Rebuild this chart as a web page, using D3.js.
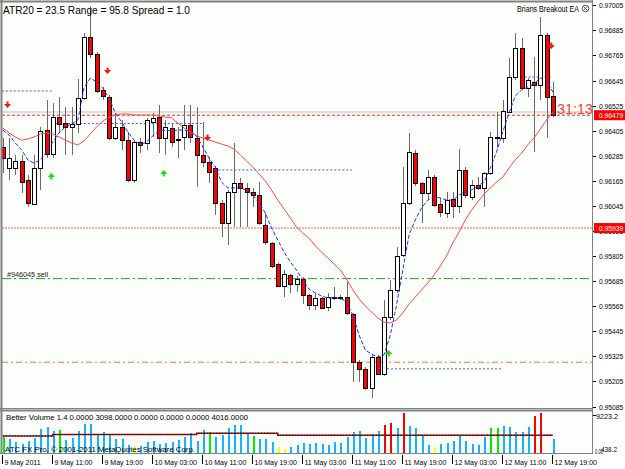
<!doctype html>
<html lang="en">
<head>
<meta charset="UTF-8">
<title>Brians Breakout EA</title>
<script src="https://cdn.jsdelivr.net/npm/d3@7"></script>
<style>
  body { margin: 0; background: #fff; }
  svg text { font-family: "Liberation Sans", Arial, sans-serif; }
</style>
</head>
<body>
<div id="chart-area"></div>

<script>
const chartW = 625;
const chartH = 469;

// hourly bars, first bar is 9 May 2011 03:00
const open = [
  .96327, .96226, .96226, .96260, .96169, .96054, .96226, .96408, .96293, .96470,
  .96442, .96423, .96437, .96561, .96853, .96772, .96600, .96566, .96370, .96423,
  .96360, .96169, .96351, .96346, .96447, .96470, .96370, .96418, .96365, .96375,
  .96432, .96370, .96289, .96255, .96226, .96059, .95963, .96112, .96155, .96131,
  .96112, .96097, .95954, .95867, .95767, .95662, .95714, .95671, .95695, .95619,
  .95571, .95604, .95561, .95609, .95609, .95609, .95528, .95298, .95264, .95174,
  .95322, .95241, .95513, .95643, .95810, .96059, .96298, .96155, .96107, .96183,
  .96054, .96011, .96078, .96045, .96217, .96088, .96145, .96131, .96202, .96370,
  .96370, .96494, .96662, .96801, .96609, .96638, .96624, .96863, .96571
];
const high = [
  .96370, .96370, .96289, .96289, .96193, .96289, .96423, .96552, .96537, .96566,
  .96518, .96518, .96652, .96872, .97000, .96781, .96614, .96576, .96490, .96456,
  .96399, .96360, .96370, .96466, .96490, .96528, .96456, .96442, .96423, .96528,
  .96528, .96518, .96447, .96279, .96236, .96073, .96121, .96346, .96179, .96155,
  .96131, .96159, .96011, .95872, .95772, .95738, .95719, .95710, .95705, .95623,
  .95628, .95609, .95628, .95657, .95619, .95681, .95533, .95308, .95274, .95336,
  .95332, .95595, .95690, .95848, .96231, .96394, .96313, .96159, .96217, .96193,
  .96083, .96112, .96112, .96317, .96231, .96169, .96183, .96207, .96399, .96494,
  .96552, .96753, .96872, .96848, .96657, .96758, .96949, .96872, .96638
];
const low = [
  .96202, .96169, .96193, .96107, .96040, .96049, .96121, .96274, .96274, .96394,
  .96289, .96289, .96394, .96552, .96753, .96585, .96552, .96360, .96360, .96313,
  .96159, .96155, .96298, .96313, .96375, .96298, .96289, .96327, .96274, .96313,
  .96346, .96136, .96231, .96155, .96002, .95896, .95858, .95944, .95944, .95944,
  .96040, .95954, .95858, .95748, .95657, .95609, .95628, .95633, .95576, .95547,
  .95547, .95552, .95542, .95595, .95595, .95523, .95202, .95202, .95164, .95126,
  .95236, .95231, .95499, .95628, .95800, .96049, .96140, .95963, .96073, .96040,
  .95992, .95987, .95987, .96011, .96083, .96073, .96121, .96040, .96193, .96322,
  .96346, .96490, .96648, .96600, .96566, .96303, .96552, .96370, .96470
];
const close = [
  .96274, .96274, .96260, .96159, .96059, .96226, .96404, .96293, .96470, .96437,
  .96423, .96437, .96561, .96853, .96772, .96595, .96571, .96370, .96423, .96360,
  .96169, .96351, .96337, .96456, .96466, .96370, .96423, .96351, .96360, .96432,
  .96375, .96289, .96255, .96207, .96059, .95963, .96112, .96155, .96131, .96112,
  .96097, .95963, .95872, .95757, .95662, .95719, .95671, .95695, .95619, .95571,
  .95604, .95556, .95609, .95604, .95604, .95532, .95298, .95264, .95174, .95322,
  .95241, .95513, .95643, .95805, .96059, .96303, .96155, .96107, .96183, .96049,
  .96016, .96073, .96045, .96217, .96097, .96145, .96131, .96202, .96375, .96375,
  .96499, .96662, .96801, .96609, .96648, .96624, .96863, .96566, .96479
];

// moving averages
const maSlow = [
  .96418, .96394, .96375, .96360, .96365, .96375, .96389, .96394, .96389, .96375,
  .96360, .96346, .96337, .96356, .96389, .96423, .96451, .96470, .96480, .96485,
  .96485, .96480, .96480, .96480, .96480, .96475, .96470, .96466, .96442, .96418,
  .96399, .96380, .96370, .96360, .96351, .96341, .96332, .96317, .96289, .96260,
  .96231, .96198, .96164, .96121, .96073, .96030, .95987, .95944, .95915, .95891,
  .95853, .95824, .95796, .95767, .95738, .95695, .95643, .95600, .95566, .95537,
  .95509, .95489, .95485, .95499, .95533, .95576, .95609, .95643, .95676, .95714,
  .95758, .95805, .95868, .95920, .95978, .96025, .96064, .96102, .96131, .96159,
  .96183, .96226, .96265, .96298, .96337, .96370, .96413, .96456, .96494
];
const maFast = [
  .96408, .96384, .96346, .96313, .96265, .96250, .96265, .96303, .96351, .96394,
  .96423, .96437, .96456, .96609, .96657, .96638, .96609, .96561, .96490, .96447,
  .96399, .96360, .96337, .96351, .96380, .96404, .96408, .96404, .96408, .96408,
  .96404, .96380, .96327, .96274, .96231, .96159, .96131, .96131, .96131, .96121,
  .96097, .96059, .96011, .95939, .95882, .95824, .95777, .95738, .95690, .95647,
  .95628, .95614, .95604, .95604, .95604, .95585, .95523, .95427, .95355, .95336,
  .95322, .95332, .95427, .95571, .95738, .95906, .95978, .96035, .96073, .96088,
  .96083, .96073, .96073, .96097, .96112, .96121, .96140, .96159, .96226, .96303,
  .96399, .96490, .96571, .96600, .96614, .96628, .96657, .96648, .96590
];

// Better Volume
const volume = [
  3558, 3104, 2425, 1971, 2651, 3331, 5370, 5824, 4917, 5144,
  2878, 3331, 4917, 6503, 6503, 4237, 4691, 4237, 3104, 3104,
  1745, 1518, 1518, 2425, 2651, 1971, 2198, 2425, 2878, 3558,
  4464, 2651, 5144, 4691, 3558, 4011, 5597, 6277, 6277, 4237,
  3784, 3104, 3104, 2425, 1292, 838, 1292, 1745, 2198, 1971,
  2198, 1971, 1745, 2425, 2198, 3558, 4691, 4917, 3331, 4237,
  4917, 6277, 6730, 5597, 8996, 6050, 5597, 4011, 1745, 1292,
  1971, 2198, 2651, 3784, 2651, 1971, 1745, 3558, 5597, 5597,
  6050, 5824, 4691, 4691, 5824, 8316, 8996, 0, 3098
];
const volType = [
  'churn', 'norm', 'norm', 'norm', 'norm', 'norm', 'norm', 'norm', 'norm', 'churn',
  'norm', 'norm', 'norm', 'norm', 'norm', 'norm', 'norm', 'norm', 'norm', 'norm',
  'norm', 'low', 'norm', 'norm', 'norm', 'norm', 'norm', 'norm', 'norm', 'norm',
  'norm', 'norm', 'norm', 'churn', 'norm', 'norm', 'norm', 'norm', 'norm', 'norm',
  'churn', 'norm', 'norm', 'norm', 'low', 'low', 'norm', 'norm', 'norm', 'norm',
  'norm', 'norm', 'norm', 'norm', 'norm', 'norm', 'norm', 'norm', 'norm', 'norm',
  'norm', 'climax', 'climax', 'norm', 'climax', 'norm', 'norm', 'norm', 'norm', 'low',
  'norm', 'norm', 'norm', 'norm', 'norm', 'norm', 'norm', 'norm', 'churn', 'churn',
  'norm', 'norm', 'norm', 'norm', 'norm', 'climax', 'climax', 'norm', 'norm'
];
const volAvgSteps = [[0, 3850], [8, 4170], [31, 4460], [44, 4016], [88, 4016]];
const volMax = 9223.2;

const priceTicks = [0.97005, 0.96885, 0.96765, 0.96645, 0.96525, 0.96405, 0.96285, 0.96165,
  0.96045, 0.95925, 0.95805, 0.95685, 0.95565, 0.95445, 0.95325, 0.95205, 0.95085];
const timeTickBars = [0, 8, 16, 24, 32, 40, 48, 56, 64, 72, 80, 88];
const timeLabels = ['9 May 2011', '9 May 11:00', '9 May 19:00', '10 May 03:00', '10 May 11:00',
  '10 May 19:00', '11 May 03:00', '11 May 11:00', '11 May 19:00', '12 May 03:00',
  '12 May 11:00', '12 May 19:00'];

const bid = 0.96479;
const lightLine = 0.96494;
const levelRed = 0.95939;
const sellLevel = 0.95697;
const stopLevel = 0.95297;
// breakout range boxes: [fromBar, toBar, price]
const boxes = [[0, 8, 0.96595], [8, 32, 0.96439], [34, 56, 0.96217], [61, 80, 0.95265], [83, 88, 0.96662]];
const sellArrows = [[1, 0.96528], [17, 0.96691], [33, 0.96370], [88, 0.96810]];
const buyArrows = [[8, 0.96188], [26, 0.96202], [62, 0.95341]];

const svg = d3.select('#chart-area')
  .append('svg')
  .attr('width', chartW)
  .attr('height', chartH)
  .style('display', 'block');

svg.append('rect').attr('width', chartW).attr('height', chartH).attr('fill', '#ffffff');
svg.append('rect').attr('x', 2).attr('y', 2).attr('width', 590).attr('height', 406).attr('fill', '#fcfefb');
svg.append('rect').attr('x', 2).attr('y', 412).attr('width', 590).attr('height', 41).attr('fill', '#fcfefb');

const x = d3.scaleLinear().domain([0, 88]).range([2.8, 552.8]);
const y = d3.scaleLinear().domain([0.95085, 0.97005]).range([406.5, 5.3]);
const yv = d3.scaleLinear().domain([0, volMax]).range([452.7, 412.5]);

const main = svg.append('g');

// horizontal lines
function hline(price, color, dash, w) {
  main.append('line')
    .attr('x1', 2).attr('x2', 592)
    .attr('y1', y(price)).attr('y2', y(price))
    .attr('stroke', color).attr('stroke-width', w || 1)
    .attr('stroke-dasharray', dash);
}
hline(lightLine, '#d6d6c8', null, 1.5);
hline(bid, '#ff2020', '3,2');
hline(levelRed, '#ff6060', '2,1');
hline(sellLevel, '#20a020', '9,3,2,3');
hline(stopLevel, '#ff6a4a', '6,3,2,3');

main.selectAll('.box')
  .data(boxes)
  .enter()
  .append('line')
    .attr('x1', d => x(d[0]) - 1).attr('x2', d => x(d[1]) - 1)
    .attr('y1', d => y(d[2])).attr('y2', d => y(d[2]))
    .attr('stroke', '#4a4aff').attr('stroke-dasharray', '2,2');

// candles
const bars = d3.range(open.length);
const cx = i => Math.round(x(i));

main.selectAll('.wick')
  .data(bars)
  .enter()
  .append('line')
    .attr('x1', i => cx(i) + 0.5).attr('x2', i => cx(i) + 0.5)
    .attr('y1', i => y(high[i])).attr('y2', i => y(low[i]))
    .attr('stroke', '#6a6a6a');

main.selectAll('.body')
  .data(bars)
  .enter()
  .append('rect')
    .attr('x', i => cx(i) - 1.5)
    .attr('width', 4)
    .attr('y', i => Math.round(y(Math.max(open[i], close[i]))) + 0.5)
    .attr('height', i => Math.max(1, Math.round(y(Math.min(open[i], close[i])) - y(Math.max(open[i], close[i])))))
    .attr('fill', i => close[i] < open[i] ? '#ff0000' : '#ffffff')
    .attr('stroke', '#000')
    .attr('stroke-width', 1)
    .attr('shape-rendering', 'crispEdges');

// moving averages
const line = d3.line().x((d, i) => x(i)).y(d => y(d));
main.append('path').attr('d', line(maSlow))
  .attr('fill', 'none').attr('stroke', '#ff4a4a').attr('stroke-width', 1);
main.append('path').attr('d', line(maFast))
  .attr('fill', 'none').attr('stroke', '#2a2aff').attr('stroke-width', 1)
  .attr('stroke-dasharray', '4,2');

// signal arrows
main.selectAll('.sell')
  .data(sellArrows)
  .enter()
  .append('path')
    .attr('d', d => {
      const ax = x(d[0]) - 1.5, ay = y(d[1]);
      return `M${ax - 1},${ay - 3.5}h2v2.5h2.5l-3.5,4l-3.5,-4h2.5z`;
    })
    .attr('fill', '#ff1010');
main.selectAll('.buy')
  .data(buyArrows)
  .enter()
  .append('path')
    .attr('d', d => {
      const ax = x(d[0]) - 1.5, ay = y(d[1]);
      return `M${ax - 1},${ay + 3.5}h2v-2.5h2.5l-3.5,-4l-3.5,4h2.5z`;
    })
    .attr('fill', '#10e010');

// texts on chart
svg.append('text').attr('x', 3).attr('y', 13.5)
  .attr('font-size', 11).attr('textLength', 187).attr('lengthAdjust', 'spacingAndGlyphs')
  .attr('fill', '#000').text('ATR20 = 23.5 Range = 95.8 Spread = 1.0');
svg.append('text').attr('x', 517).attr('y', 11.5)
  .attr('font-size', 8.5).attr('textLength', 62).attr('lengthAdjust', 'spacingAndGlyphs')
  .attr('fill', '#000').text('Brians Breakout EA');
svg.append('circle').attr('cx', 585.5).attr('cy', 8.5).attr('r', 3.3)
  .attr('fill', 'none').attr('stroke', '#555');
svg.append('path').attr('d', 'M583.6,6.6L587.4,10.4M587.4,6.6L583.6,10.4')
  .attr('stroke', '#555').attr('stroke-width', 0.9);
svg.append('text').attr('x', 557).attr('y', 113.5)
  .attr('font-size', 14).attr('textLength', 36).attr('lengthAdjust', 'spacingAndGlyphs')
  .attr('fill', '#ff3c3c').text('31:13');
svg.append('text').attr('x', 7).attr('y', 276.5)
  .attr('font-size', 7.5).attr('textLength', 41).attr('lengthAdjust', 'spacingAndGlyphs')
  .attr('fill', '#202020').text('#946045 sell');

// frames
const frame = svg.append('g').attr('stroke', '#808080').attr('fill', 'none');
frame.append('line').attr('x1', 0).attr('x2', 593).attr('y1', 1.5).attr('y2', 1.5).attr('stroke-width', 2);
frame.append('line').attr('x1', 1.5).attr('x2', 1.5).attr('y1', 0).attr('y2', 454).attr('stroke-width', 2);
frame.append('line').attr('x1', 592.5).attr('x2', 592.5).attr('y1', 0).attr('y2', 454);
frame.append('line').attr('x1', 0).attr('x2', 593).attr('y1', 408.5).attr('y2', 408.5);
frame.append('line').attr('x1', 0).attr('x2', 593).attr('y1', 410.5).attr('y2', 410.5).attr('stroke-width', 2);
frame.append('line').attr('x1', 0).attr('x2', 593).attr('y1', 453.5).attr('y2', 453.5);

// price axis
const pAxis = svg.append('g');
pAxis.selectAll('.tk')
  .data(priceTicks)
  .enter()
  .append('line')
    .attr('x1', 593).attr('x2', 596)
    .attr('y1', d => Math.round(y(d)) + 0.5).attr('y2', d => Math.round(y(d)) + 0.5)
    .attr('stroke', '#000');
pAxis.selectAll('.lb')
  .data(priceTicks)
  .enter()
  .append('text')
    .attr('x', 599).attr('y', d => y(d) + 3)
    .attr('font-size', 7.5).attr('textLength', 24.3).attr('lengthAdjust', 'spacingAndGlyphs')
    .attr('fill', '#000')
    .text(d => d.toFixed(5));

[bid, levelRed].forEach(p => {
  pAxis.append('rect').attr('x', 594).attr('y', y(p) - 5).attr('width', 31).attr('height', 10)
    .attr('fill', '#ff0000');
  pAxis.append('text').attr('x', 599).attr('y', y(p) + 3)
    .attr('font-size', 7.5).attr('textLength', 24.3).attr('lengthAdjust', 'spacingAndGlyphs')
    .attr('fill', '#fff').text(p.toFixed(5));
});

// volume panel
const vol = svg.append('g');
const volColor = { norm: '#14b4ff', churn: '#00ee00', low: '#ffff00', climax: '#ff0000' };
vol.selectAll('rect')
  .data(bars.filter(i => volume[i] > 0))
  .enter()
  .append('rect')
    .attr('x', i => cx(i) - 0.5)
    .attr('width', 2)
    .attr('y', i => yv(volume[i]))
    .attr('height', i => yv(0) - yv(volume[i]))
    .attr('fill', i => volColor[volType[i]])
    .attr('shape-rendering', 'crispEdges');

const avgLine = d3.line().curve(d3.curveStepAfter).x(d => x(d[0])).y(d => yv(d[1]));
vol.append('path').attr('d', avgLine(volAvgSteps))
  .attr('fill', 'none').attr('stroke', '#a01010').attr('stroke-width', 1.5);
vol.append('path').attr('d', avgLine(volAvgSteps))
  .attr('fill', 'none').attr('stroke', '#000').attr('stroke-width', 1).attr('stroke-dasharray', '1,2');

svg.append('text').attr('x', 6).attr('y', 420)
  .attr('font-size', 7.5).attr('textLength', 242).attr('lengthAdjust', 'spacingAndGlyphs')
  .attr('fill', '#000').text('Better Volume 1.4 0.0000 3098.0000 0.0000 0.0000 0.0000 4016.0000');
svg.append('text').attr('x', 5).attr('y', 452)
  .attr('font-size', 8).attr('textLength', 190).attr('lengthAdjust', 'spacingAndGlyphs')
  .attr('fill', '#000').text('ATC FX Pro, © 2001-2011 MetaQuotes Software Corp.');

svg.append('line').attr('x1', 593).attr('x2', 596).attr('y1', 415.5).attr('y2', 415.5).attr('stroke', '#000');
svg.append('text').attr('x', 596).attr('y', 418.5)
  .attr('font-size', 7.5).attr('textLength', 22).attr('lengthAdjust', 'spacingAndGlyphs')
  .attr('fill', '#000').text(volMax.toFixed(1));
svg.append('text').attr('x', 601).attr('y', 451.5)
  .attr('font-size', 7.5).attr('textLength', 16).attr('lengthAdjust', 'spacingAndGlyphs')
  .attr('fill', '#000').text('438.2');
svg.append('text').attr('x', 595).attr('y', 454)
  .attr('font-size', 7.5).attr('textLength', 8).attr('lengthAdjust', 'spacingAndGlyphs')
  .attr('fill', '#000').text('0.00');

// time axis
const tAxis = svg.append('g');
tAxis.selectAll('line')
  .data(timeTickBars)
  .enter()
  .append('line')
    .attr('x1', i => cx(i) - 0.5).attr('x2', i => cx(i) - 0.5)
    .attr('y1', 455).attr('y2', 464)
    .attr('stroke', '#000');
tAxis.selectAll('text')
  .data(timeTickBars)
  .enter()
  .append('text')
    .attr('x', i => cx(i) + 1.5).attr('y', 465)
    .attr('font-size', 7)
    .attr('fill', '#000')
    .text((d, k) => timeLabels[k]);
</script>
</body>
</html>
